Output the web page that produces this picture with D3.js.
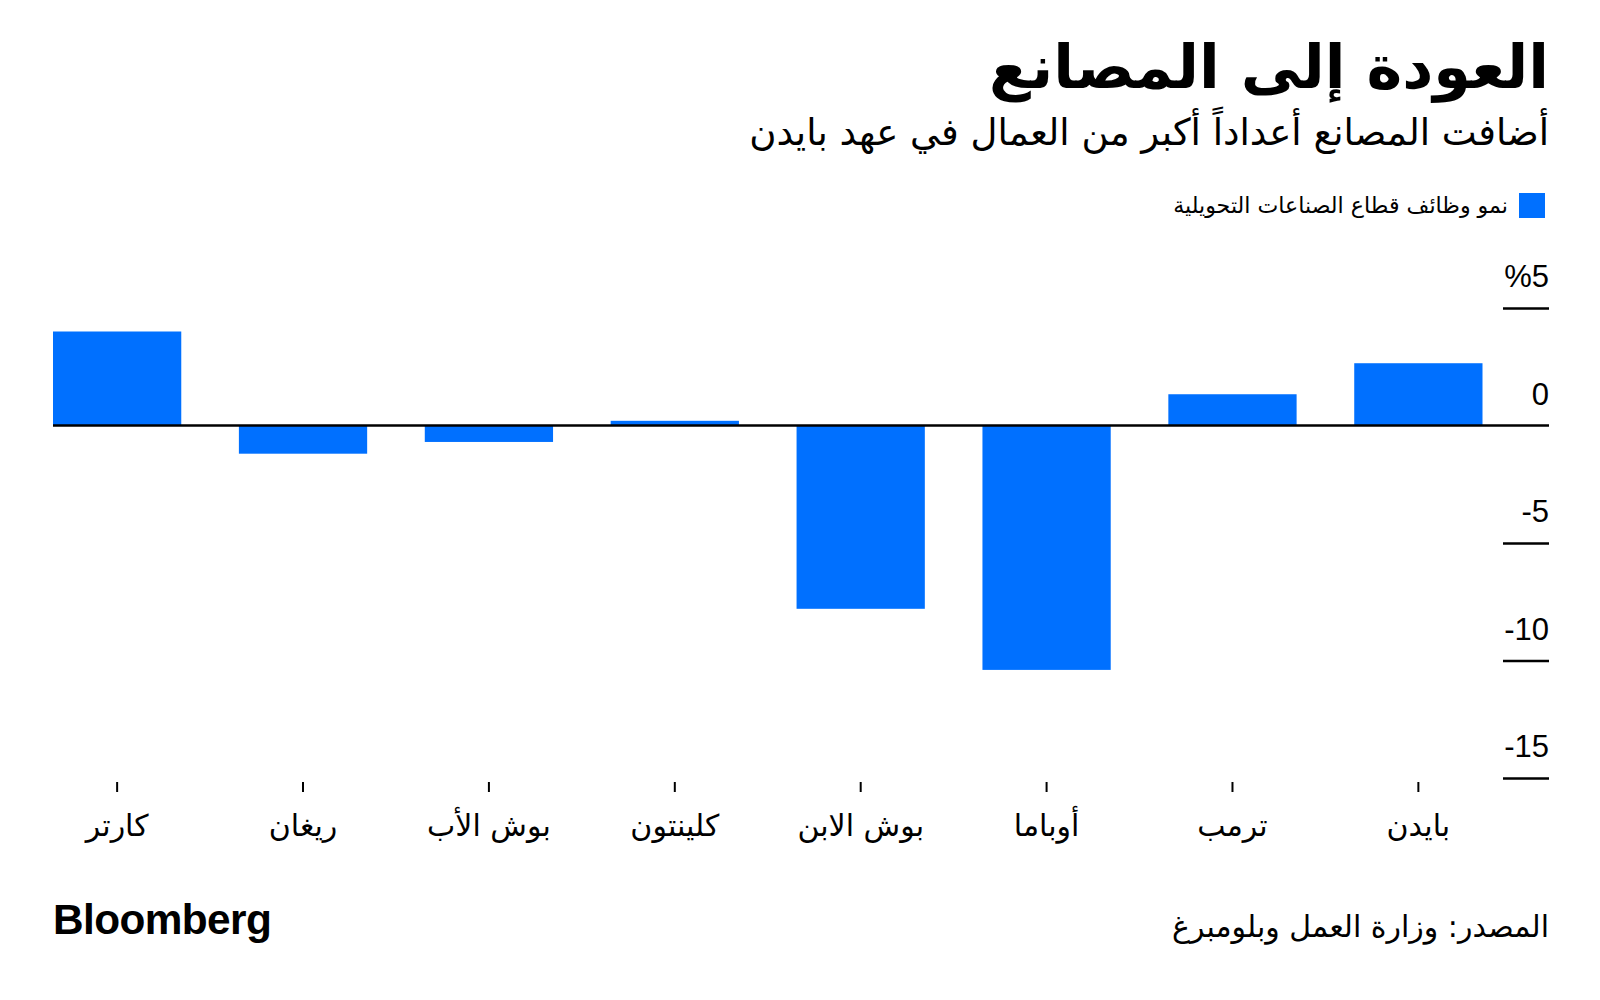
<!DOCTYPE html>
<html>
<head>
<meta charset="utf-8">
<script src="https://cdn.jsdelivr.net/npm/d3@7"></script>
<style>
  body { margin: 0; background: #fff; }
  svg { display: block; }
</style>
</head>
<body>
<div id="chart"></div>
<script>
// ---- data ----
const presidents = ["كارتر", "ريغان", "بوش الأب", "كلينتون", "بوش الابن", "أوباما", "ترمب", "بايدن"];
const growth = [4.0, -1.2, -0.7, 0.2, -7.8, -10.4, 1.33, 2.65];
const yTicks = [5, 0, -5, -10, -15];
const yTickLabels = ["%5", "0", "-5", "-10", "-15"];
const title = "العودة إلى المصانع";
const subtitle = "أضافت المصانع أعداداً أكبر من العمال في عهد بايدن";
const legendLabel = "نمو وظائف قطاع الصناعات التحويلية";
const source = "المصدر: وزارة العمل وبلومبرغ";

// ---- layout ----
const W = 1600, H = 1000;
const arabicFont = "'DejaVu Sans', 'Noto Sans', sans-serif";
const latinFont = "'Liberation Sans', Arial, sans-serif";
const blue = "#0070ff";
const right = 1549;

const svg = d3.select("#chart").append("svg").attr("width", W).attr("height", H);
svg.append("rect").attr("width", W).attr("height", H).attr("fill", "#fff");

function fitText(sel, targetWidth) {
  const node = sel.node();
  const w = node.getComputedTextLength();
  const fs = parseFloat(sel.attr("font-size"));
  if (w > 0) sel.attr("font-size", (fs * targetWidth / w).toFixed(2));
}

// title
const t = svg.append("text").attr("x", right).attr("y", 88)
  .attr("text-anchor", "end").attr("font-family", arabicFont)
  .attr("font-weight", "bold").attr("font-size", 56).attr("fill", "#000").text(title);
fitText(t, 560);

const st = svg.append("text").attr("x", right).attr("y", 145)
  .attr("text-anchor", "end").attr("font-family", arabicFont)
  .attr("font-size", 34).attr("fill", "#000").text(subtitle);
fitText(st, 800);

// legend
svg.append("rect").attr("x", 1519).attr("y", 193).attr("width", 26).attr("height", 25).attr("fill", blue);
const lg = svg.append("text").attr("x", 1508).attr("y", 213)
  .attr("text-anchor", "end").attr("font-family", arabicFont)
  .attr("font-size", 21).attr("fill", "#000").text(legendLabel);
fitText(lg, 335);

// scales
const x = d3.scaleBand().domain(presidents).range([53, 1482.5]).paddingInner(0.31).paddingOuter(0);
const y = d3.scaleLinear().domain([-15, 5]).range([778, 308]);

// bars
svg.append("g").selectAll("rect").data(growth).join("rect")
  .attr("x", (d, i) => x(presidents[i]))
  .attr("width", x.bandwidth())
  .attr("y", d => y(Math.max(0, d)))
  .attr("height", d => Math.abs(y(d) - y(0)))
  .attr("fill", blue);

// y axis (right side, short tick lines with labels above)
const yAxis = d3.axisRight(y).tickValues(yTicks).tickSize(0).tickFormat((d, i) => yTickLabels[i]);
const yg = svg.append("g").attr("transform", `translate(${right},0)`).call(yAxis);
yg.select(".domain").remove();
yg.selectAll(".tick").each(function(d) {
  const g = d3.select(this);
  if (d !== 0) {
    g.append("line").attr("x1", -46).attr("x2", 0).attr("y1", 0).attr("y2", 0)
      .attr("stroke", "#000").attr("stroke-width", 2.5);
  }
  g.select("text").attr("x", 0).attr("dy", null).attr("y", -21.5)
    .attr("text-anchor", "end").attr("font-family", latinFont)
    .attr("font-size", 31).attr("fill", "#000");
});

// zero line
svg.append("line").attr("x1", 53).attr("x2", right).attr("y1", y(0)).attr("y2", y(0))
  .attr("stroke", "#000").attr("stroke-width", 2.5);

// x axis
const xAxis = d3.axisBottom(x).tickSize(10).tickSizeOuter(0);
const xg = svg.append("g").attr("transform", "translate(0,782)").call(xAxis);
xg.select(".domain").remove();
xg.selectAll(".tick line").attr("stroke", "#000").attr("stroke-width", 2);
xg.selectAll(".tick text").attr("y", 54).attr("dy", null)
  .attr("font-family", arabicFont).attr("font-size", 30).attr("fill", "#000");

// footer
const bl = svg.append("text").attr("x", 53).attr("y", 934)
  .attr("font-family", latinFont).attr("font-weight", "bold")
  .attr("font-size", 41).attr("letter-spacing", -0.6).attr("fill", "#000").text("Bloomberg");
fitText(bl, 218);

const src = svg.append("text").attr("x", right).attr("y", 937)
  .attr("text-anchor", "end").attr("font-family", arabicFont)
  .attr("font-size", 28).attr("fill", "#000").text(source);
fitText(src, 377);
</script>
</body>
</html>
